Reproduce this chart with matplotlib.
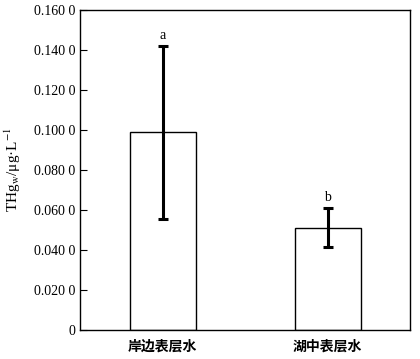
import matplotlib.pyplot as plt

categories = ["岸边表层水", "湖中表层水"]
means = [0.0988, 0.0512]
err_low = [0.0433, 0.0097]
err_high = [0.0432, 0.0100]
letters = ["a", "b"]
yticks = [0, 0.02, 0.04, 0.06, 0.08, 0.10, 0.12, 0.14, 0.16]
ytick_labels = ["0", "0.020 0", "0.040 0", "0.060 0", "0.080 0",
                "0.100 0", "0.120 0", "0.140 0", "0.160 0"]

plt.rcParams["font.family"] = ["Liberation Serif", "DejaVu Serif"]
plt.rcParams["mathtext.fontset"] = "stix"

fig = plt.figure(figsize=(4.2, 3.59), dpi=100)
ax = fig.add_axes([80 / 420, 29 / 359, 330 / 420, 320 / 359])

x = range(len(categories))
ax.bar(x, means, width=0.4, color="white", edgecolor="black", linewidth=1.0)
ax.errorbar(x, means, yerr=[err_low, err_high], fmt="none", ecolor="black",
            elinewidth=2.2, capsize=3.5, capthick=2.2)
for i, m in enumerate(means):
    ax.text(i, m + err_high[i] + 0.002, letters[i], ha="center", va="bottom",
            fontsize=10)

ax.set_xlim(-0.5, 1.5)
ax.set_ylim(0, 0.16)
ax.set_yticks(yticks)
ax.set_yticklabels(ytick_labels, fontsize=10)
ax.set_xticks(list(x))
ax.set_xticklabels(categories, family=["Noto Sans CJK SC"], fontweight="bold",
                   fontsize=10)
ax.tick_params(axis="y", direction="in", length=5, width=0.8)
ax.tick_params(axis="x", length=0, pad=7)
for s in ax.spines.values():
    s.set_linewidth(1.0)
ax.set_ylabel(r"THg$_{\mathrm{w}}$/μg·L$^{-1}$", fontsize=11, labelpad=8)

fig.savefig("out.png", dpi=100)
